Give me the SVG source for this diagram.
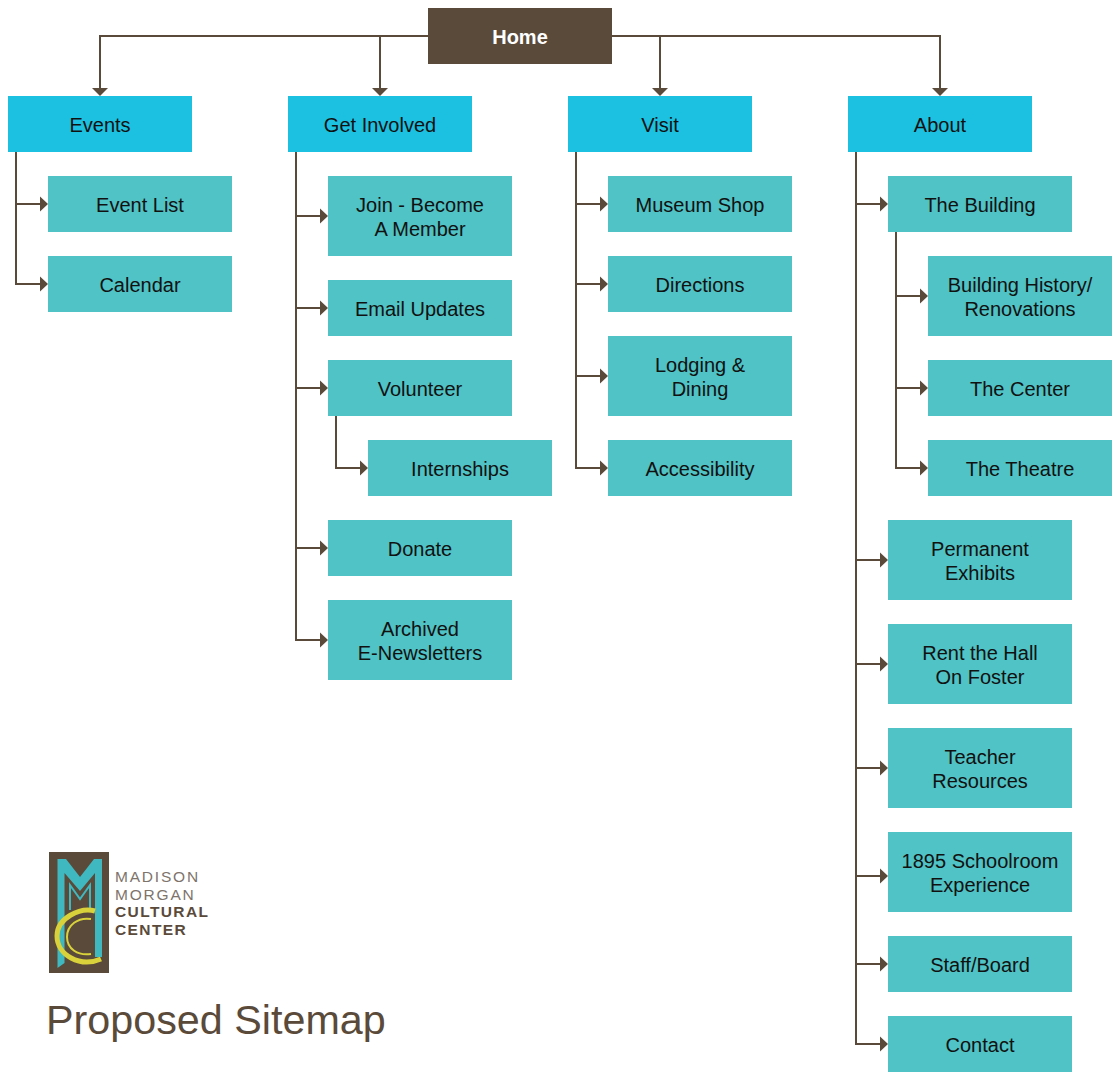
<svg xmlns="http://www.w3.org/2000/svg" width="1120" height="1080" viewBox="0 0 1120 1080">
<style>
text{font-family:"Liberation Sans",Arial,sans-serif;font-size:20px;fill:#111;text-anchor:middle}
.top{fill:#1cc1e1}.sub{fill:#4fc3c5}.home{fill:#5a4a3a}
.ht{fill:#fff;font-weight:bold}
.c{fill:none;stroke:#5a4a3a;stroke-width:2}
.a{fill:#5a4a3a}
text.lg{font-size:15.500px;fill:#7d746b;text-anchor:start;letter-spacing:1.800px}
text.lb{font-size:15.500px;fill:#5a4a3a;text-anchor:start;font-weight:bold;letter-spacing:1.400px}
text.title{font-size:41.300px;fill:#5a4a3a;text-anchor:start}
</style>
<defs>
<path id="ad" class="a" d="M92 88h16l-8 8z"/>
<path id="ar" class="a" d="M40 196.500v15l8-7.500z"/>
</defs>
<rect width="1120" height="1080" fill="#fff"/>
<g id="connectors">
<path class="c" d="M428 36H100V90M428 36H380V90M612 36H940V90M612 36H660V90"/>
<path class="c" d="M16 152V284H42M16 204H42"/>
<path class="c" d="M296 152V640H322M296 216H322M296 308H322M296 388H322M296 548H322"/>
<path class="c" d="M336 416V468H362"/>
<path class="c" d="M576 152V468H602M576 204H602M576 284H602M576 376H602"/>
<path class="c" d="M856 152V1044H882M856 204H882M856 560H882M856 664H882M856 768H882M856 876H882M856 964H882"/>
<path class="c" d="M896 232V468H922M896 296H922M896 388H922"/>
<use href="#ad"/><use href="#ad" x="280"/><use href="#ad" x="560"/><use href="#ad" x="840"/>
<use href="#ar"/><use href="#ar" y="80"/>
<use href="#ar" x="280" y="12"/><use href="#ar" x="280" y="104"/><use href="#ar" x="280" y="184"/><use href="#ar" x="320" y="264"/><use href="#ar" x="280" y="344"/><use href="#ar" x="280" y="436"/>
<use href="#ar" x="560"/><use href="#ar" x="560" y="80"/><use href="#ar" x="560" y="172"/><use href="#ar" x="560" y="264"/>
<use href="#ar" x="840"/><use href="#ar" x="880" y="92"/><use href="#ar" x="880" y="184"/><use href="#ar" x="880" y="264"/>
<use href="#ar" x="840" y="356"/><use href="#ar" x="840" y="460"/><use href="#ar" x="840" y="564"/><use href="#ar" x="840" y="672"/><use href="#ar" x="840" y="760"/><use href="#ar" x="840" y="840"/>
</g>
<g id="home"><rect class="home" x="428" y="8" width="184" height="56"/><text class="ht" x="520" y="44">Home</text></g>
<g id="events"><rect class="top" x="8" y="96" width="184" height="56"/><text x="100" y="132">Events</text></g>
<g id="get-involved"><rect class="top" x="288" y="96" width="184" height="56"/><text x="380" y="132">Get Involved</text></g>
<g id="visit"><rect class="top" x="568" y="96" width="184" height="56"/><text x="660" y="132">Visit</text></g>
<g id="about"><rect class="top" x="848" y="96" width="184" height="56"/><text x="940" y="132">About</text></g>
<g id="event-list"><rect class="sub" x="48" y="176" width="184" height="56"/><text x="140" y="212">Event List</text></g>
<g id="calendar"><rect class="sub" x="48" y="256" width="184" height="56"/><text x="140" y="292">Calendar</text></g>
<g id="join"><rect class="sub" x="328" y="176" width="184" height="80"/><text x="420" y="212">Join - Become</text><text x="420" y="236">A Member</text></g>
<g id="email-updates"><rect class="sub" x="328" y="280" width="184" height="56"/><text x="420" y="316">Email Updates</text></g>
<g id="volunteer"><rect class="sub" x="328" y="360" width="184" height="56"/><text x="420" y="396">Volunteer</text></g>
<g id="internships"><rect class="sub" x="368" y="440" width="184" height="56"/><text x="460" y="476">Internships</text></g>
<g id="donate"><rect class="sub" x="328" y="520" width="184" height="56"/><text x="420" y="556">Donate</text></g>
<g id="archived"><rect class="sub" x="328" y="600" width="184" height="80"/><text x="420" y="636">Archived</text><text x="420" y="660">E-Newsletters</text></g>
<g id="museum-shop"><rect class="sub" x="608" y="176" width="184" height="56"/><text x="700" y="212">Museum Shop</text></g>
<g id="directions"><rect class="sub" x="608" y="256" width="184" height="56"/><text x="700" y="292">Directions</text></g>
<g id="lodging"><rect class="sub" x="608" y="336" width="184" height="80"/><text x="700" y="372">Lodging &amp;</text><text x="700" y="396">Dining</text></g>
<g id="accessibility"><rect class="sub" x="608" y="440" width="184" height="56"/><text x="700" y="476">Accessibility</text></g>
<g id="building"><rect class="sub" x="888" y="176" width="184" height="56"/><text x="980" y="212">The Building</text></g>
<g id="history"><rect class="sub" x="928" y="256" width="184" height="80"/><text x="1020" y="292">Building History/</text><text x="1020" y="316">Renovations</text></g>
<g id="center"><rect class="sub" x="928" y="360" width="184" height="56"/><text x="1020" y="396">The Center</text></g>
<g id="theatre"><rect class="sub" x="928" y="440" width="184" height="56"/><text x="1020" y="476">The Theatre</text></g>
<g id="exhibits"><rect class="sub" x="888" y="520" width="184" height="80"/><text x="980" y="556">Permanent</text><text x="980" y="580">Exhibits</text></g>
<g id="rent"><rect class="sub" x="888" y="624" width="184" height="80"/><text x="980" y="660">Rent the Hall</text><text x="980" y="684">On Foster</text></g>
<g id="teacher"><rect class="sub" x="888" y="728" width="184" height="80"/><text x="980" y="764">Teacher</text><text x="980" y="788">Resources</text></g>
<g id="schoolroom"><rect class="sub" x="888" y="832" width="184" height="80"/><text x="980" y="868">1895 Schoolroom</text><text x="980" y="892">Experience</text></g>
<g id="staff"><rect class="sub" x="888" y="936" width="184" height="56"/><text x="980" y="972">Staff/Board</text></g>
<g id="contact"><rect class="sub" x="888" y="1016" width="184" height="56"/><text x="980" y="1052">Contact</text></g>
<g id="logo">
<rect x="49" y="852" width="60" height="121" fill="#5a4a3a"/>
<path fill="#3fb8c0" d="M57.500 859H66L80 877L94 859H102V957H95V873L80 891L64.500 873V963L57.500 968Z"/>
<path fill="none" stroke="#3fb8c0" stroke-width="2" d="M70 910V885L80 899L90 885V910"/>
<path fill="none" stroke="#d9d23a" stroke-width="5" d="M95 911C80 907 57 918 57 936C57 955 80 968 101 959"/>
<path fill="none" stroke="#d9d23a" stroke-width="2" d="M91 919C78 917 67 925 67 937C67 949 78 956 91 954"/>
<text class="lg" x="115" y="882">MADISON</text>
<text class="lg" x="115" y="899.500">MORGAN</text>
<text class="lb" x="115" y="917">CULTURAL</text>
<text class="lb" x="115" y="935">CENTER</text>
</g>
<text class="title" x="46" y="1034">Proposed Sitemap</text>
</svg>
